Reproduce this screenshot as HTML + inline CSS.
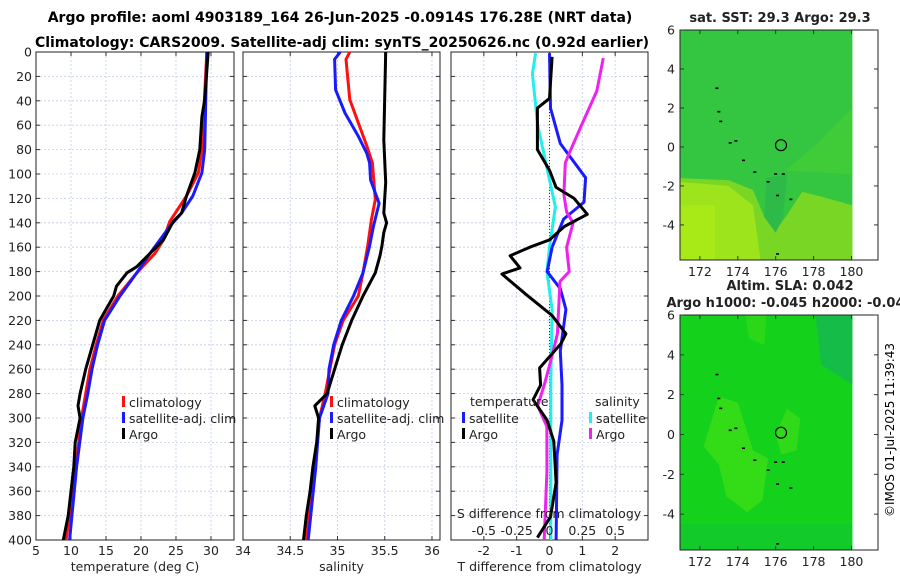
<!DOCTYPE html>
<html><head><meta charset="utf-8">
<style>
html,body{margin:0;padding:0;background:#fff;}
svg{display:block;font-family:"DejaVu Sans","Liberation Sans",sans-serif;}
</style></head>
<body>
<svg id="fig" width="900" height="580" viewBox="0 0 900 580" xmlns="http://www.w3.org/2000/svg">
<text x="340" y="22" text-anchor="middle" font-size="14" font-weight="bold">Argo profile: aoml 4903189_164 26-Jun-2025 -0.0914S 176.28E (NRT data)</text>
<text x="342" y="47" text-anchor="middle" font-size="14" font-weight="bold">Climatology: CARS2009. Satellite-adj clim: synTS_20250626.nc (0.92d earlier)</text>
<g id="p1"></g>
<g id="p2"></g>
<g id="p3"></g>
<g id="m1"></g>
<g id="m2"></g>
<text transform="translate(894,430) rotate(-90)" text-anchor="middle" font-size="12">©IMOS 01-Jul-2025 11:39:43</text>
</svg>
<script>
// ---- data ----
const depthTicks=[0,20,40,60,80,100,120,140,160,180,200,220,240,260,280,300,320,340,360,380,400];
const tempTicks=[5,10,15,20,25,30];
const salTicks=[34,34.5,35,35.5,36];
const tdiffTicks=[-2,-1,0,1,2];
const sdiffTicks=[-0.5,-0.25,0,0.25,0.5];
const sdiffLabels=["-0.5","-0.25","0","0.25","0.5"];

const argoTDepth=[0,39,53,80,99,118,132,139,154,165,176,181,192,200,220,240,260,280,290,300,320,340,360,380,400];
const argoT=[29.6,29.1,28.7,28.4,27.7,26.5,25.8,24.6,23.2,21.3,19.4,18.0,16.5,16.1,14.1,13.1,12.1,11.3,11.0,11.3,10.6,10.4,10.0,9.6,8.9];
const climDepth=[0,80,99,118,139,154,165,181,200,220,240,260,280,300,340,400];
const climT=[29.4,28.7,28.2,26.5,24.1,23.2,22.0,19.4,16.7,14.6,13.6,12.7,12.1,11.5,10.7,9.3];
const satTDepth=[0,80,99,118,132,143,154,165,181,200,220,240,260,280,300,340,400];
const satT=[29.4,29.1,28.7,27.4,25.8,24.1,22.7,21.3,19.4,17.0,14.8,13.8,13.0,12.4,11.7,10.8,9.8];

const argoSDepth=[0,72,107,132,140,148,159,167,181,200,220,240,260,280,290,300,320,340,360,380,400];
const argoS=[35.51,35.49,35.51,35.49,35.52,35.49,35.47,35.45,35.4,35.27,35.15,35.05,34.97,34.89,34.76,34.8,34.78,34.74,34.71,34.67,34.64];
const satSDepth=[0,6,31,50,69,83,91,105,124,143,159,181,200,220,240,260,280,300,340,400];
const satS=[35.03,34.97,34.98,35.08,35.22,35.31,35.34,35.35,35.44,35.38,35.34,35.27,35.17,35.04,34.96,34.91,34.9,34.81,34.77,34.69];
const climSDepth=[0,6,39,58,77,91,121,137,159,181,200,220,240,260,280,300,340,400];
const climSv=[35.13,35.09,35.13,35.22,35.31,35.37,35.4,35.36,35.32,35.27,35.22,35.06,34.97,34.92,34.87,34.81,34.76,34.67];

const dTArgoDepth=[4,38,46,80,97,111,120,133,143,154,160,167,177,182,199,216,231,239,259,273,285,302,319,353,381,398];
const dTArgo=[0.08,0,-0.37,-0.37,0,0.2,0.75,1.15,0.45,0,-0.6,-1.2,-0.9,-1.45,-0.7,0.08,0.5,0.35,-0.3,-0.27,-0.5,-0.07,0.13,0.2,0.03,-0.37];
const dTSatDepth=[1,46,75,103,123,137,160,180,194,211,245,273,302,330,400];
const dTSat=[0,0.03,0.33,1.1,1.05,0.43,0.08,-0.07,0.33,0.5,0.33,0.38,0.38,0.23,0.2];
const dSSatDepth=[1,18,60,90,127,138,160,180,211,273,400];
const dSSat=[-0.106,-0.13,-0.09,-0.03,0.045,0.03,0,-0.02,0.02,0.01,0.01];
const dSArgoDepth=[5,32,61,83,91,117,131,140,160,180,188,231,253,273,290,307,344,400];
const dSArgo=[0.41,0.36,0.24,0.15,0.12,0.11,0.13,0.18,0.13,0.15,0.08,0.06,0.01,-0.04,-0.09,-0.02,-0.02,-0.04];

const mapXTicks=[172,174,176,178,180];
const mapYTicks=[-4,-2,0,2,4,6];
const islandLon=[172.9,173.0,173.1,173.6,173.9,174.3,174.9,175.6,176.0,176.4,176.1,176.8,176.1];
const islandLat=[3.0,1.8,1.3,0.2,0.3,-0.7,-1.3,-1.8,-1.4,-1.4,-2.5,-2.7,-5.5];
const argoLon=[176.28];
const argoLat=[0.09];

const NS="http://www.w3.org/2000/svg";
function mk(parent,tag,attrs){const e=document.createElementNS(NS,tag);for(const k in attrs)e.setAttribute(k,attrs[k]);parent.appendChild(e);return e;}
function txt(parent,x,y,s,attrs){const t=mk(parent,'text',Object.assign({x:x,y:y,'font-size':12.5,fill:'#222'},attrs||{}));t.textContent=s;return t;}

const yTop=52,yBot=540;
const yD=d=>yTop+(yBot-yTop)*d/400;

function panel(g,x0,x1,xmin,xmax,xticks,xlabels,xtitle,showDepth){
  const xs=v=>x0+(x1-x0)*(v-xmin)/(xmax-xmin);
  depthTicks.forEach(d=>{
    const l=mk(g,'line',{x1:x0,x2:x1,y1:yD(d),y2:yD(d),stroke:'#c4cce8','stroke-dasharray':'2,2','stroke-width':0.8});
    
    
    mk(g,'line',{x1:x0,x2:x0+4,y1:yD(d),y2:yD(d),stroke:'#333'});
    mk(g,'line',{x1:x1,x2:x1-4,y1:yD(d),y2:yD(d),stroke:'#333'});
    if(showDepth){const t=txt(g,x0-4,yD(d)+4.5,String(d),{'text-anchor':'end'});
      
      }
  });
  xticks.forEach((v,i)=>{
    const l=mk(g,'line',{x1:xs(v),x2:xs(v),y1:yTop,y2:yBot,stroke:'#c4cce8','stroke-dasharray':'2,2','stroke-width':0.8});
    
    
    mk(g,'line',{x1:xs(v),x2:xs(v),y1:yBot,y2:yBot-4,stroke:'#333'});
    mk(g,'line',{x1:xs(v),x2:xs(v),y1:yTop,y2:yTop+4,stroke:'#333'});
    const t=txt(g,xs(v),yBot+15,xlabels[i],{'text-anchor':'middle'});
    
    
  });
  const r=mk(g,'rect',{x:x0,y:yTop,width:x1-x0,height:yBot-yTop,fill:'none',stroke:'#222','stroke-width':1});
  
  
  const tt=txt(g,(x0+x1)/2,yBot+31,xtitle,{'text-anchor':'middle'});
  
  
  return xs;
}
function series(g,xs,vals,depths,color,w,name){
  const pts=vals.map((v,i)=>xs(v).toFixed(1)+','+yD(depths[i]).toFixed(1)).join(' ');
  const p=mk(g,'polyline',{points:pts,fill:'none',stroke:color,'stroke-width':w,'stroke-linejoin':'round'});
  
  
}
function legend(g,x,y,color,label,name){
  mk(g,'rect',{x:x,y:y-6,width:3,height:11,fill:color});
  const t=txt(g,x+7,y+5,label,{});
  
  
}

// panel 1
const g1=document.getElementById('p1');
const xs1=panel(g1,36,234,5,33.29,tempTicks,tempTicks.map(String),'temperature (deg C)',true);
series(g1,xs1,climT,climDepth,'#ff1010',3,'climatology-temp-line');
series(g1,xs1,satT,satTDepth,'#1a1aff',3,'satellite-temp-line');
series(g1,xs1,argoT,argoTDepth,'#000',3,'argo-temp-line');
legend(g1,122,402,'#ff1010','climatology','legend-climatology');
legend(g1,122,418,'#1a1aff','satellite-adj. clim','legend-satellite');
legend(g1,122,434,'#000','Argo','legend-argo');

// panel 2
const g2=document.getElementById('p2');
const xs2=panel(g2,243,440,34,36.085,salTicks,["34","34.5","35","35.5","36"],'salinity',false);
series(g2,xs2,climSv,climSDepth,'#ff1010',3,'climatology-sal-line');
series(g2,xs2,satS,satSDepth,'#1a1aff',3,'satellite-sal-line');
series(g2,xs2,argoS,argoSDepth,'#000',3,'argo-sal-line');
legend(g2,330,402,'#ff1010','climatology','legend-climatology-sal');
legend(g2,330,418,'#1a1aff','satellite-adj. clim','legend-satellite-sal');
legend(g2,330,434,'#000','Argo','legend-argo-sal');

// panel 3
const g3=document.getElementById('p3');
const xs3=panel(g3,451,648,-3,3,tdiffTicks,tdiffTicks.map(String),'T difference from climatology',false);
const xsS=v=>xs3(v*4);
mk(g3,'line',{x1:xs3(0),x2:xs3(0),y1:yTop,y2:yBot,stroke:'#333','stroke-dasharray':'1,2','stroke-width':1});
series(g3,xsS,dSSat,dSSatDepth,'#22eeee',3,'sal-diff-satellite-line');
series(g3,xs3,dTSat,dTSatDepth,'#1a1aff',3,'temp-diff-satellite-line');
series(g3,xsS,dSArgo,dSArgoDepth,'#ee22ee',3,'sal-diff-argo-line');
series(g3,xs3,dTArgo,dTArgoDepth,'#000',3,'temp-diff-argo-line');
let t3=txt(g3,470,406,'temperature',{});
t3=txt(g3,595,406,'salinity',{});
legend(g3,462,418,'#1a1aff','satellite','legend-temp-satellite');
legend(g3,462,434,'#000','Argo','legend-temp-argo');
legend(g3,589,418,'#22eeee','satellite','legend-sal-satellite');
legend(g3,589,434,'#ee22ee','Argo','legend-sal-argo');
t3=txt(g3,549,518,'S difference from climatology',{'text-anchor':'middle'});

sdiffTicks.forEach((v,i)=>{const t=txt(g3,xsS(v),535,sdiffLabels[i],{'text-anchor':'middle'});
  
  });

// maps
function map(id,y0,y1,titles,kind){
  const g=document.getElementById(id);
  const x0=680,x1=878;
  const lon=v=>x0+(x1-x0)*(v-170.95)/(181.4-170.95);
  const lat=v=>y1-(y1-y0)*(v+5.8)/(11.8);
  titles.forEach((s,i)=>{const t=txt(g,id==='m1'?780:790,y0-8-(titles.length-1-i)*17,s,{'text-anchor':'middle','font-weight':'bold','font-size':13});
    
    });
  const xr=lon(180.05);
  if(kind==='sst'){
    mk(g,'rect',{x:x0,y:y0,width:xr-x0,height:y1-y0,fill:'#34c640'});
    mk(g,'polygon',{points:`${x0},${lat(-1.6)} ${lon(173.5)},${lat(-1.7)} ${lon(174.8)},${lat(-2.2)} ${lon(175.4)},${lat(-3.6)} ${lon(176)},${lat(-4.3)} ${lon(176.6)},${lat(-3.5)} ${lon(177.4)},${lat(-2.3)} ${lon(178.6)},${lat(-2.6)} ${xr},${lat(-3)} ${xr},${y1} ${x0},${y1}`,fill:'#7ad624'});
    mk(g,'polygon',{points:`${x0},${lat(-1.8)} ${lon(173.5)},${lat(-2)} ${lon(174.8)},${lat(-3)} ${lon(175.2)},${lat(-5.8)} ${x0},${y1}`,fill:'#9ee41c'});
    mk(g,'rect',{x:x0,y:lat(-3),width:lon(172.8)-x0,height:y1-lat(-3),fill:'#a8ea18'});
    mk(g,'polygon',{points:`${lon(176.5)},${lat(-1.2)} ${xr},${lat(-1.4)} ${xr},${lat(2)} ${lon(178)},${lat(0)}`,fill:'#40cc38'});
    mk(g,'polygon',{points:`${lon(175.5)},${lat(-1.6)} ${lon(176.6)},${lat(-1.4)} ${lon(176.4)},${lat(-3.6)} ${lon(176)},${lat(-4.4)} ${lon(175.4)},${lat(-3.6)}`,fill:'#2eba48'});
  } else {
    mk(g,'rect',{x:x0,y:y0,width:xr-x0,height:y1-y0,fill:'#14d21c'});
    mk(g,'polygon',{points:`${lon(178.1)},${y0} ${xr},${y0} ${xr},${lat(2.5)} ${lon(178.4)},${lat(3.5)}`,fill:'#16bc48'});
    mk(g,'polygon',{points:`${lon(172.2)},${lat(-0.6)} ${lon(173)},${lat(1.9)} ${lon(174)},${lat(1.6)} ${lon(174.8)},${lat(-0.8)} ${lon(175.6)},${lat(-1.2)} ${lon(175.3)},${lat(-3.3)} ${lon(174.5)},${lat(-3.9)} ${lon(173.4)},${lat(-3.1)} ${lon(173)},${lat(-1.5)}`,fill:'#34dc18'});
    mk(g,'polygon',{points:`${lon(176)},${lat(0)} ${lon(176.6)},${lat(1.3)} ${lon(177.3)},${lat(0.8)} ${lon(177.1)},${lat(-0.8)} ${lon(176.3)},${lat(-1)}`,fill:'#30da18'});
    mk(g,'polygon',{points:`${lon(174.4)},${y0} ${lon(175.5)},${y0} ${lon(175.4)},${lat(4.5)} ${lon(174.6)},${lat(4.8)}`,fill:'#2ad818'});
    mk(g,'rect',{x:x0,y:lat(-4.5),width:xr-x0,height:y1-lat(-4.5),fill:'#12c436','opacity':0.6});
  }
  islandLon.forEach((v,i)=>{const r=mk(g,'rect',{x:lon(v)-1.5,y:lat(islandLat[i])-1,width:3,height:1.6,fill:'#000'});
    
    });
  argoLon.forEach((v,i)=>{const c=mk(g,'circle',{cx:lon(v),cy:lat(argoLat[i]),r:5.5,fill:'none',stroke:'#000','stroke-width':1.2});
    
    });
  mk(g,'rect',{x:x0,y:y0,width:x1-x0,height:y1-y0,fill:'none',stroke:'#222'});
  mapXTicks.forEach(v=>{mk(g,'line',{x1:lon(v),x2:lon(v),y1:y1,y2:y1-4,stroke:'#333'});mk(g,'line',{x1:lon(v),x2:lon(v),y1:y0,y2:y0+4,stroke:'#333'});
    const t=txt(g,lon(v),y1+16,String(v),{'text-anchor':'middle'});
    
    });
  mapYTicks.forEach(v=>{mk(g,'line',{x1:x0,x2:x0+4,y1:lat(v),y2:lat(v),stroke:'#333'});mk(g,'line',{x1:x1,x2:x1-4,y1:lat(v),y2:lat(v),stroke:'#333'});
    const t=txt(g,x0-5,lat(v)+4.5,String(v),{'text-anchor':'end'});
    
    });
}
map('m1',30,260,['sat. SST: 29.3 Argo: 29.3'],'sst');
map('m2',315,550,['Altim. SLA: 0.042','Argo h1000: -0.045 h2000: -0.043'],'sla');
</script>
</body></html>
